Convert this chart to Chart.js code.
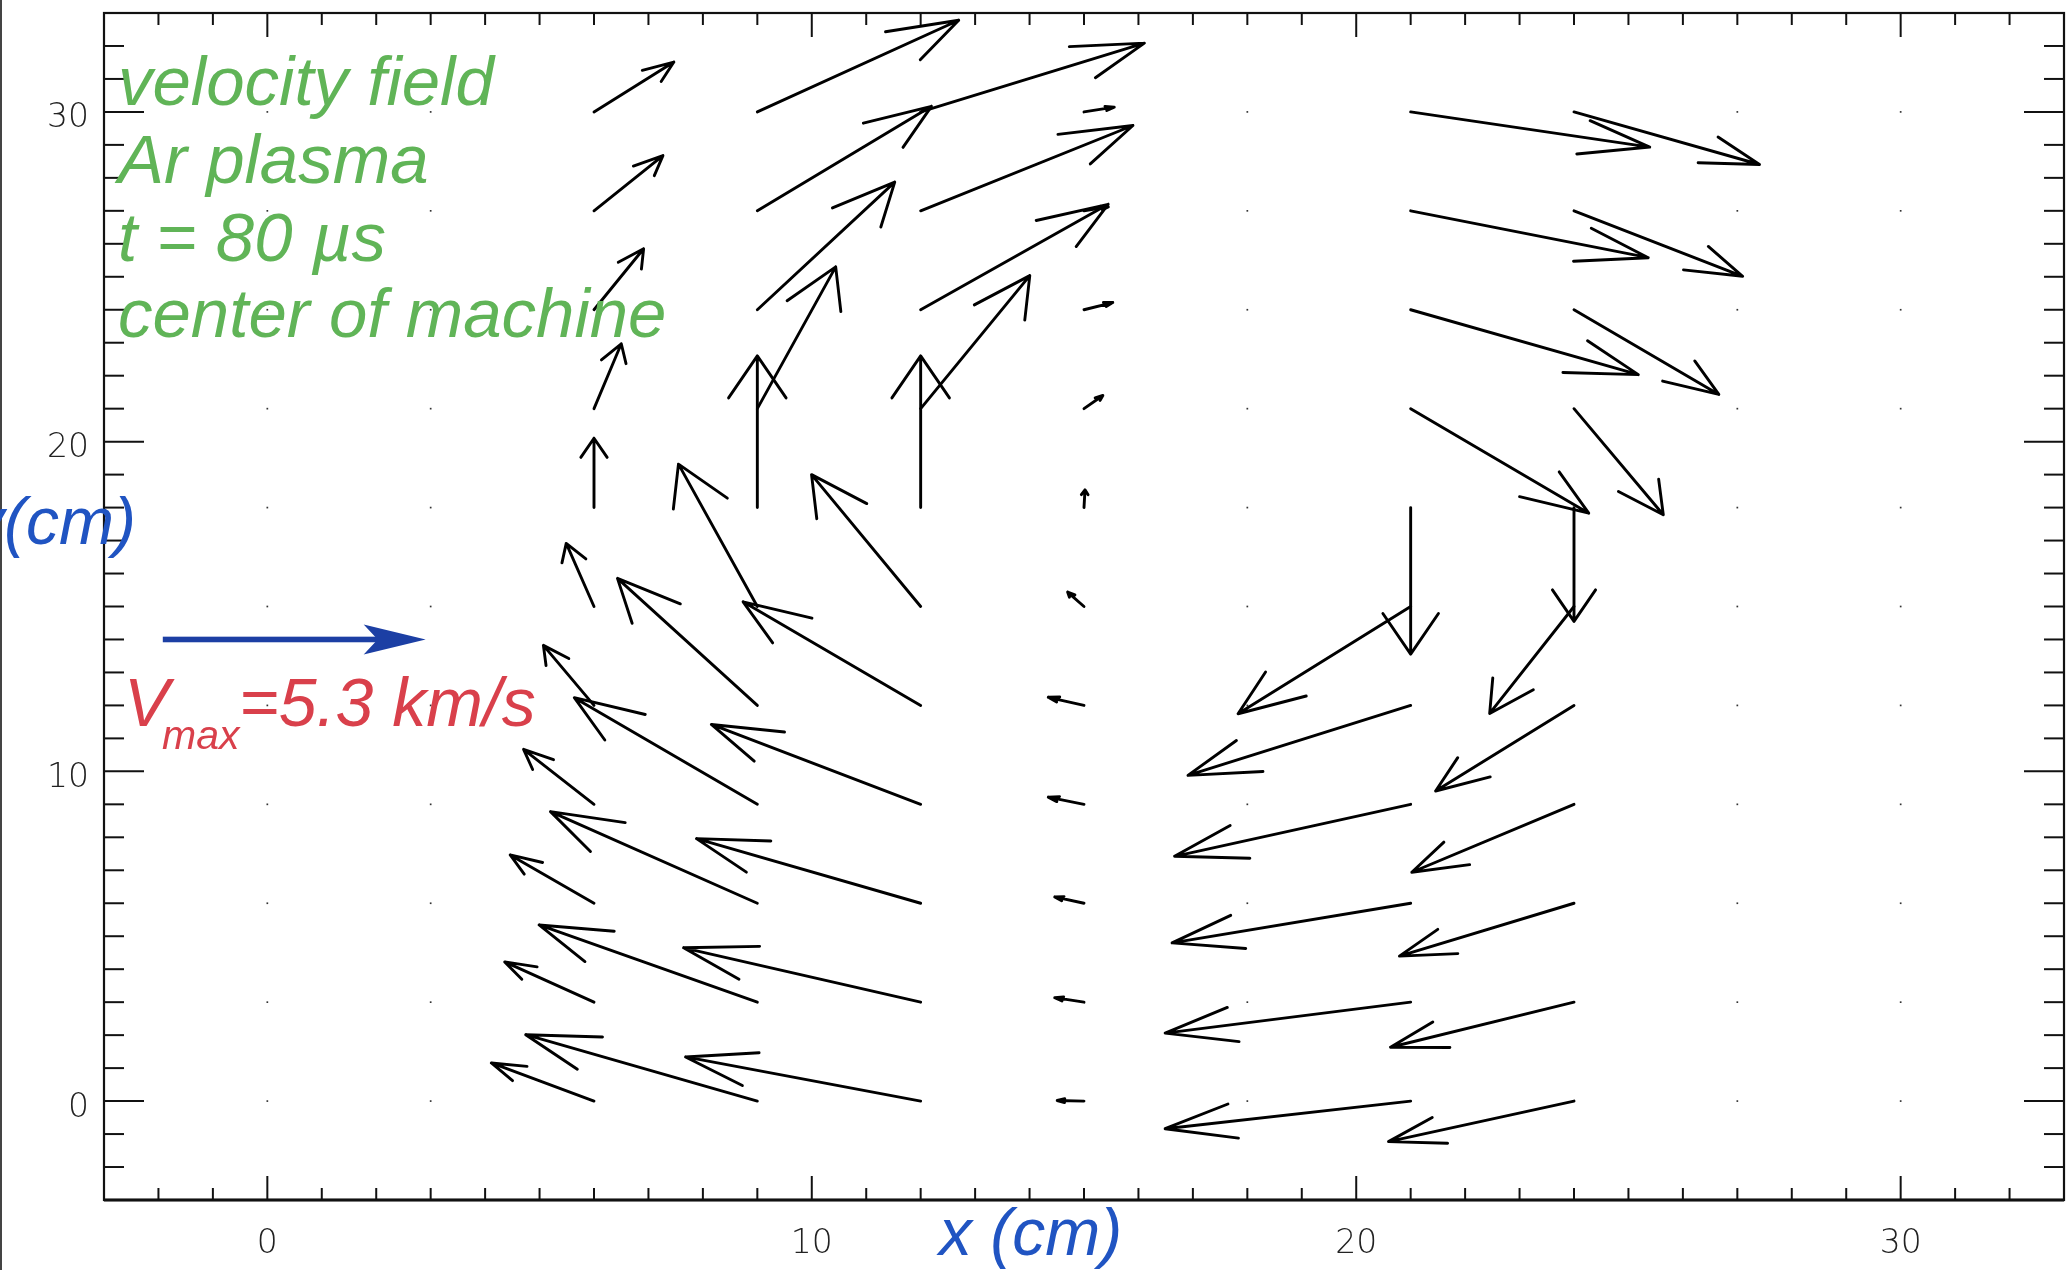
<!DOCTYPE html>
<html>
<head>
<meta charset="utf-8">
<script src="https://cdn.jsdelivr.net/npm/chart.js@4.4.0/dist/chart.umd.min.js"></script>
<style>
  html, body { margin: 0; padding: 0; background: #fff; overflow: hidden; }
  #wrap { position: relative; width: 2068px; height: 1270px; }
  canvas { display: block; }
</style>
</head>
<body>
<div id="wrap"><canvas id="field" width="2068" height="1270" style="width:2068px;height:1270px"></canvas></div>
<script>
// Measurement grid (cm)
const xGrid = [0, 3, 6, 9, 12, 15, 18, 21, 24, 27, 30];
const yGrid = [0, 3, 6, 9, 12, 15, 18, 21, 24, 27, 30];

// Axis labels
const xTickValues = [0, 10, 20, 30];
const yTickValues = [0, 10, 20, 30];

// Velocity components (km/s) for each column x, listed from y = 0 up to y = 30
const vxAt0  = [0, 0, 0, 0, 0, 0, 0, 0, 0, 0, 0];
const vyAt0  = [0, 0, 0, 0, 0, 0, 0, 0, 0, 0, 0];
const vxAt3  = [0, 0, 0, 0, 0, 0, 0, 0, 0, 0, 0];
const vyAt3  = [0, 0, 0, 0, 0, 0, 0, 0, 0, 0, 0];
const vxAt6  = [-2.07, -1.80, -1.69, -1.42, -1.02, -0.56, 0, 0.55, 1.00, 1.39, 1.61];
const vyAt6  = [1.27, 1.34, 1.61, 1.83, 2.00, 2.10, 2.31, 2.16, 2.03, 1.84, 1.66];
const vxAt9  = [-4.67, -4.40, -4.17, -3.69, -2.82, -1.59, 0, 1.58, 2.77, 3.51, 4.06];
const vyAt9  = [2.21, 2.57, 3.05, 3.55, 4.23, 4.74, 5.05, 4.72, 4.25, 3.48, 3.05];
const vxAt12 = [-4.74, -4.78, -4.52, -4.22, -3.58, -2.20, 0, 2.20, 3.78, 4.28, 4.51];
const vyAt12 = [1.47, 1.81, 2.15, 2.66, 3.45, 4.39, 5.05, 4.43, 3.51, 2.84, 2.29];
const vxAt15 = [-0.54, -0.59, -0.59, -0.72, -0.72, -0.33, 0.02, 0.38, 0.58, 0.49, 0.61];
const vyAt15 = [0.02, 0.15, 0.21, 0.24, 0.27, 0.48, 0.59, 0.44, 0.24, 0.13, 0.16];
const vxAt18 = [0, 0, 0, 0, 0, 0, 0, 0, 0, 0, 0];
const vyAt18 = [0, 0, 0, 0, 0, 0, 0, 0, 0, 0, 0];
const vxAt21 = [-4.95, -4.95, -4.81, -4.76, -4.49, -3.48, 0, 3.59, 4.59, 4.79, 4.82];
const vyAt21 = [-0.92, -1.03, -1.32, -1.73, -2.33, -3.57, -4.88, -3.48, -2.16, -1.56, -1.17];
const vxAt24 = [-3.74, -3.70, -3.52, -3.27, -2.79, -1.70, 0, 1.80, 2.92, 3.40, 3.74];
const vyAt24 = [-1.35, -1.50, -1.76, -2.26, -2.85, -3.56, -3.79, -3.53, -2.82, -2.18, -1.75];
const vxAt27 = [0, 0, 0, 0, 0, 0, 0, 0, 0, 0, 0];
const vyAt27 = [0, 0, 0, 0, 0, 0, 0, 0, 0, 0, 0];
const vxAt30 = [0, 0, 0, 0, 0, 0, 0, 0, 0, 0, 0];
const vyAt30 = [0, 0, 0, 0, 0, 0, 0, 0, 0, 0, 0];

// Reference speed shown by the blue key arrow
const V_MAX = 5.3;          // km/s
const CM_PER_KMS = 0.911;   // plotted arrow length (cm) per km/s
const KEY_START = { x: -1.92, y: 14.0 };

const vxColumns = [vxAt0, vxAt3, vxAt6, vxAt9, vxAt12, vxAt15, vxAt18, vxAt21, vxAt24, vxAt27, vxAt30];
const vyColumns = [vyAt0, vyAt3, vyAt6, vyAt9, vyAt12, vyAt15, vyAt18, vyAt21, vyAt24, vyAt27, vyAt30];

const points = [];
xGrid.forEach((x, i) => {
  yGrid.forEach((y, j) => {
    points.push({ x: x, y: y, vx: vxColumns[i][j], vy: vyColumns[i][j] });
  });
});

const TEXT_FONT = '"Liberation Sans", Arial, Helvetica, sans-serif';
const TICK_FONT = { family: '"DejaVu Sans", "Liberation Sans", sans-serif', size: 33, weight: '300' };

// Arrowhead like IDL's velovect: barbs 0.3 of the vector, 22.5 deg, built in data space
const HEAD_R = 0.3;
const HEAD_ANGLE = 22.5 * Math.PI / 180;

const vectorPlugin = {
  id: 'vectorField',
  afterDatasetsDraw(chart) {
    const ctx = chart.ctx;
    const a = chart.chartArea;
    const sx = chart.scales.x, sy = chart.scales.y;
    const seg = (x1, y1, x2, y2) => { ctx.beginPath(); ctx.moveTo(x1, y1); ctx.lineTo(x2, y2); ctx.stroke(); };

    ctx.save();
    // plot frame
    ctx.strokeStyle = '#111';
    ctx.lineWidth = 2.2;
    ctx.strokeRect(a.left, a.top, a.right - a.left, a.bottom - a.top);
    ctx.lineWidth = 2.8;
    seg(a.left, a.bottom, a.right, a.bottom);

    // inward ticks on all four sides: minor every 1 cm, major every 10 cm
    ctx.lineWidth = 2;
    for (let v = -2; v <= 32; v++) {
      const major = v % 10 === 0;
      const px = sx.getPixelForValue(v);
      const lx = major ? 24 : 12;
      seg(px, a.bottom, px, a.bottom - lx);
      seg(px, a.top, px, a.top + lx);
      const py = sy.getPixelForValue(v);
      const ly = major ? 40 : 20;
      seg(a.left, py, a.left + ly, py);
      seg(a.right, py, a.right - ly, py);
    }

    // velocity arrows
    ctx.strokeStyle = '#000';
    ctx.lineWidth = 2.9;
    ctx.lineCap = 'round';
    ctx.lineJoin = 'round';
    const ct = HEAD_R * Math.cos(HEAD_ANGLE), st = HEAD_R * Math.sin(HEAD_ANGLE);
    chart.data.datasets[0].data.forEach(p => {
      if (p.vx === 0 && p.vy === 0) return;
      const dx = p.vx * CM_PER_KMS, dy = p.vy * CM_PER_KMS;
      const x1 = p.x + dx, y1 = p.y + dy;
      const bx1 = x1 - (ct * dx - st * dy), by1 = y1 - (ct * dy + st * dx);
      const bx2 = x1 - (ct * dx + st * dy), by2 = y1 - (ct * dy - st * dx);
      ctx.beginPath();
      ctx.moveTo(sx.getPixelForValue(p.x), sy.getPixelForValue(p.y));
      ctx.lineTo(sx.getPixelForValue(x1), sy.getPixelForValue(y1));
      ctx.lineTo(sx.getPixelForValue(bx1), sy.getPixelForValue(by1));
      ctx.moveTo(sx.getPixelForValue(x1), sy.getPixelForValue(y1));
      ctx.lineTo(sx.getPixelForValue(bx2), sy.getPixelForValue(by2));
      ctx.stroke();
    });
    ctx.restore();
  },
  afterDraw(chart) {
    const ctx = chart.ctx;
    const sx = chart.scales.x, sy = chart.scales.y;
    ctx.save();

    // image edge line
    ctx.fillStyle = '#444';
    ctx.fillRect(0, 0, 2, chart.height);

    // key arrow for V_max
    const kx0 = sx.getPixelForValue(KEY_START.x);
    const kx1 = sx.getPixelForValue(KEY_START.x + V_MAX * CM_PER_KMS);
    const ky = sy.getPixelForValue(KEY_START.y);
    ctx.fillStyle = '#1c3fa4';
    ctx.fillRect(kx0, ky - 2.8, (kx1 - 46) - kx0, 5.6);
    ctx.beginPath();
    ctx.moveTo(kx1, ky);
    ctx.lineTo(kx1 - 62, ky - 15);
    ctx.lineTo(kx1 - 48, ky);
    ctx.lineTo(kx1 - 62, ky + 15);
    ctx.closePath();
    ctx.fill();

    // annotation block
    ctx.textBaseline = 'alphabetic';
    ctx.textAlign = 'left';
    ctx.fillStyle = '#60b457';
    ctx.font = 'italic 69px ' + TEXT_FONT;
    ctx.fillText('velocity field', 118, 105);
    ctx.fillText('Ar plasma', 118, 183);
    ctx.fillText('t = 80 \u00B5s', 118, 261);
    ctx.fillText('center of machine', 118, 337);

    // V_max label
    ctx.fillStyle = '#d9404b';
    ctx.font = 'italic 68px ' + TEXT_FONT;
    ctx.fillText('V', 124, 726);
    ctx.font = 'italic 41px ' + TEXT_FONT;
    ctx.fillText('max', 162, 749);
    ctx.font = 'italic 68px ' + TEXT_FONT;
    ctx.fillText('=' + V_MAX.toFixed(1) + ' km/s', 239, 726);

    // axis titles
    ctx.fillStyle = '#2054c2';
    ctx.font = 'italic 66px ' + TEXT_FONT;
    ctx.fillText('x (cm)', 939, 1255);
    ctx.textAlign = 'right';
    ctx.fillText('y(cm)', 136, 544);
    ctx.restore();
  }
};

new Chart(document.getElementById('field'), {
  type: 'scatter',
  data: {
    datasets: [{
      data: points,
      pointStyle: 'rect',
      pointRadius: c => (c.raw && c.raw.vx === 0 && c.raw.vy === 0) ? 1.2 : 0,
      pointBackgroundColor: '#333',
      pointBorderWidth: 0,
      showLine: false
    }]
  },
  options: {
    responsive: false,
    animation: false,
    devicePixelRatio: 1,
    events: [],
    layout: { padding: { top: 13, right: 4, left: 0, bottom: 0 } },
    plugins: { legend: { display: false }, tooltip: { enabled: false } },
    scales: {
      x: {
        type: 'linear', min: -3, max: 33,
        afterBuildTicks: s => { s.ticks = xTickValues.map(v => ({ value: v })); },
        afterFit: s => { s.height = 70; s.paddingLeft = 0; s.paddingRight = 0; },
        grid: { display: false, drawTicks: false },
        border: { display: false },
        ticks: { padding: 25, color: '#222', font: TICK_FONT, maxRotation: 0, autoSkip: false }
      },
      y: {
        type: 'linear', min: -3, max: 33,
        afterBuildTicks: s => { s.ticks = yTickValues.map(v => ({ value: v })); },
        afterFit: s => { s.width = 104; s.paddingTop = 0; s.paddingBottom = 0; },
        grid: { display: false, drawTicks: false },
        border: { display: false },
        ticks: { padding: 15, labelOffset: 7, color: '#222', font: TICK_FONT, autoSkip: false }
      }
    }
  },
  plugins: [vectorPlugin]
});
</script>
</body>
</html>
